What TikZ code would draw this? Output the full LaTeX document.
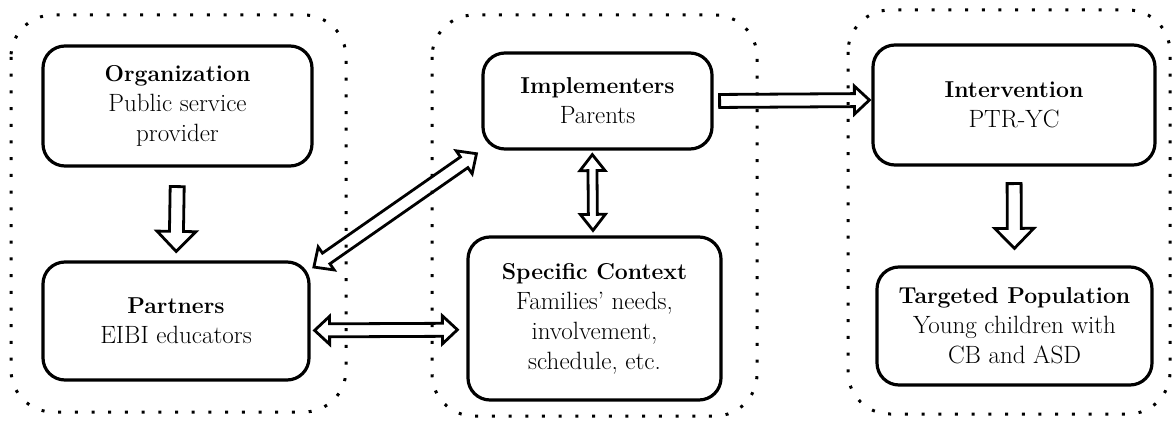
\documentclass[tikz,border=0pt]{standalone}
\usepackage{fontspec}
\usetikzlibrary{calc}

% bold first line of every box, a little smaller as Latin Modern bold is wide
\newcommand\boxtitle[1]{{\fontsize{23}{30}\selectfont\bfseries #1}}

\tikzset{
  % parameters of the hollow block arrows
  arrow shaft/.store in=\bashaft,
  arrow head/.store in=\bahead,
  arrow headlen/.store in=\bahlen,
  start gap/.store in=\bagapa,
  end gap/.store in=\bagapb,
  arrow shaft=6.5pt, arrow head=14pt, arrow headlen=15pt,
  start gap=0pt, end gap=0pt,
  hollow/.style={draw, line width=2.8pt, line join=miter, miter limit=10},
  single block/.style={hollow, to path={
    ($(\tikztostart)!\bagapa!(\tikztotarget)$) coordinate (ba-a)
    ($(\tikztotarget)!\bagapb!(\tikztostart)$) coordinate (ba-b)
    ($(ba-b)!\bahlen!(ba-a)$) coordinate (ba-h)
    ($(ba-a)!\bashaft!90:(ba-b)$)
    -- ($(ba-h)!\bashaft!-90:(ba-a)$)
    -- ($(ba-h)!\bahead!-90:(ba-a)$)
    -- (ba-b)
    -- ($(ba-h)!\bahead!90:(ba-a)$)
    -- ($(ba-h)!\bashaft!90:(ba-a)$)
    -- ($(ba-a)!\bashaft!-90:(ba-b)$)
    -- cycle}},
  double block/.style={hollow, to path={
    ($(\tikztostart)!\bagapa!(\tikztotarget)$) coordinate (ba-a)
    ($(\tikztotarget)!\bagapb!(\tikztostart)$) coordinate (ba-b)
    ($(ba-a)!\bahlen!(ba-b)$) coordinate (ba-ha)
    ($(ba-b)!\bahlen!(ba-a)$) coordinate (ba-hb)
    (ba-a)
    -- ($(ba-ha)!\bahead!90:(ba-b)$)
    -- ($(ba-ha)!\bashaft!90:(ba-b)$)
    -- ($(ba-hb)!\bashaft!-90:(ba-a)$)
    -- ($(ba-hb)!\bahead!-90:(ba-a)$)
    -- (ba-b)
    -- ($(ba-hb)!\bahead!90:(ba-a)$)
    -- ($(ba-hb)!\bashaft!90:(ba-a)$)
    -- ($(ba-ha)!\bashaft!-90:(ba-b)$)
    -- ($(ba-ha)!\bahead!-90:(ba-b)$)
    -- cycle}},
  big head/.style={arrow shaft=7pt, arrow head=19.5pt, arrow headlen=20pt},
  box/.style={draw, line width=3.2pt, rounded corners=22pt, inner sep=0pt,
    align=center, font=\fontsize{25}{30}\selectfont},
  dotframe/.style={line width=3pt, dash pattern=on 3pt off 13.7pt,
    rounded corners=42pt},
}

\begin{document}
\begin{tikzpicture}[x=1pt, y=-1pt]
  \useasboundingbox (0,0) rectangle (1172,422);

  % dotted groups
  \draw[dotframe] (11,15) rectangle (346,412);
  \draw[dotframe] (432,15) rectangle (757,416);
  \draw[dotframe] (848,10) rectangle (1170,414);

  % boxes
  \node[box, minimum width=269pt, minimum height=120pt] (org) at (177.5,106)
    {\boxtitle{Organization}\\Public service\\provider};
  \node[box, minimum width=266pt, minimum height=118pt] (part) at (176,321)
    {\boxtitle{Partners}\\EIBI educators};
  \node[box, minimum width=229pt, minimum height=96pt] (impl) at (597.5,101)
    {\boxtitle{Implementers}\\Parents};
  \node[box, minimum width=253pt, minimum height=163pt] (ctx) at (594.5,318.5)
    {\boxtitle{Specific Context}\\Families’ needs,\\involvement,\\schedule, etc.};
  \node[box, minimum width=282pt, minimum height=120pt] (interv) at (1014,105)
    {\boxtitle{Intervention}\\PTR-YC};
  \node[box, minimum width=275pt, minimum height=118pt] (targ) at (1014.5,326)
    {\boxtitle{Targeted Population}\\Young children with\\CB and ASD};

  % connectors
  \draw[single block, big head, start gap=19pt, end gap=9pt] (org.south) to (part.north);
  \draw[single block, big head, start gap=17pt, end gap=17pt] (interv.south) to (targ.north);
  \draw[single block, start gap=6pt, end gap=2pt] (impl.east) to (interv.178.4);
  \draw[double block, start gap=4pt, end gap=6pt] (part.21) to (impl.203);
  \draw[double block, start gap=4pt, end gap=9pt] (part.-4.3) to (ctx.185.6);
  \draw[double block, arrow shaft=4.5pt, arrow head=12.5pt, arrow headlen=16pt,
        start gap=4pt, end gap=5pt] (impl.264.6) to (ctx.91);
\end{tikzpicture}
\end{document}
